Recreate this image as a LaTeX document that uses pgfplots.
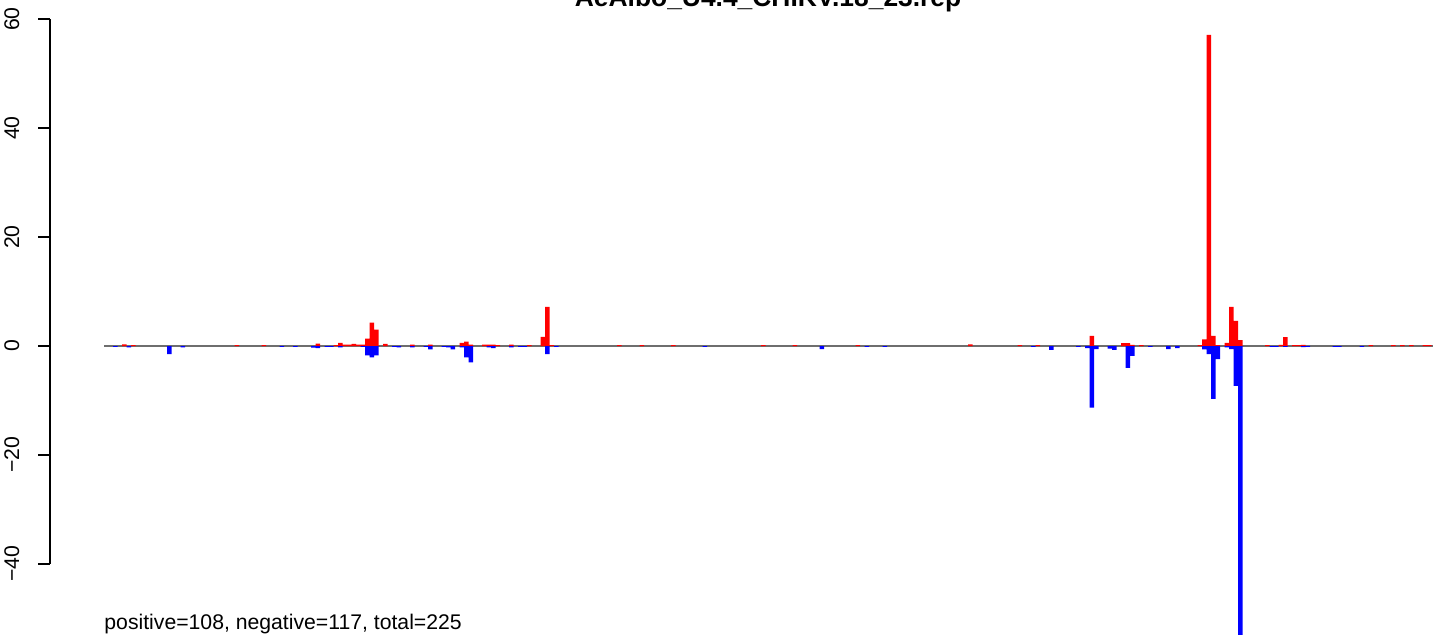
\documentclass[border=0pt]{standalone}
\usepackage{pgfplots}
\usepackage{pgfplotstable}
\pgfplotsset{compat=1.18}
\usepackage{fontspec}
\setmainfont{Liberation Sans}

% bin  value  (bins of equal width along the genome)
\pgfplotstableread{
bin val
4 0.3
6 0.15
29 0.15
35 0.15
47 0.45
51 0.15
52 0.6
53 0.25
54 0.25
55 0.4
56 0.25
57 0.25
58 1.35
59 4.3
60 3.0
62 0.4
68 0.25
72 0.25
79 0.6
80 0.8
81 0.25
84 0.25
85 0.25
86 0.25
87 0.15
90 0.25
94 0.15
97 1.7
98 7.2
99 0.15
114 0.15
119 0.15
126 0.15
146 0.15
153 0.15
167 0.15
192 0.3
203 0.15
207 0.15
219 1.85
226 0.55
227 0.55
228 0.2
230 0.15
243 0.15
244 1.2
245 57.1
246 1.85
247 0.15
249 0.6
250 7.2
251 4.6
252 1.1
258 0.15
261 0.2
262 1.65
264 0.15
265 0.15
266 0.2
281 0.15
286 0.15
288 0.15
290 0.15
293 0.15
294 0.15
}\pos

\pgfplotstableread{
bin val
2 -0.15
5 -0.25
14 -1.5
17 -0.25
39 -0.15
42 -0.15
46 -0.3
47 -0.4
49 -0.15
50 -0.15
52 -0.25
57 -0.15
58 -1.7
59 -2.1
60 -1.7
64 -0.15
65 -0.25
68 -0.25
71 -0.15
72 -0.6
75 -0.15
76 -0.25
77 -0.6
79 -0.25
80 -2.1
81 -3.0
85 -0.25
86 -0.4
90 -0.25
92 -0.15
93 -0.15
98 -1.5
100 -0.15
133 -0.15
159 -0.55
169 -0.15
173 -0.15
206 -0.15
210 -0.7
216 -0.15
218 -0.4
219 -11.3
220 -0.55
223 -0.5
224 -0.7
227 -4.0
228 -1.8
232 -0.15
236 -0.55
238 -0.4
244 -0.6
245 -1.5
246 -9.7
247 -2.4
249 -0.25
250 -0.55
251 -7.3
252 -55
259 -0.15
260 -0.15
262 -0.15
266 -0.2
267 -0.15
273 -0.15
274 -0.15
279 -0.15
}\negs

\definecolor{zeroline}{RGB}{110,110,110}

\begin{document}
\begin{tikzpicture}
\begin{axis}[
  at={(0,0)}, anchor=south west,
  scale only axis,
  width=716.5pt, height=317pt,
  xmin=-23.61, xmax=294.83,
  ymin=-52.84, ymax=63.49,
  hide axis,
]
\addplot[zeroline, line width=0.7pt] coordinates {(-0.5,0) (294.83,0)};
\addplot[ybar, bar width=1, bar shift=0pt, fill=red, draw=none] table[x=bin, y=val] {\pos};
\addplot[ybar, bar width=1, bar shift=0pt, fill=blue, draw=none] table[x=bin, y=val] {\negs};
\node[anchor=base west, inner sep=0pt, font=\fontsize{10.6}{12}\selectfont]
  at (axis description cs:0.0726,0.0071) {positive=108, negative=117, total=225};
\node[anchor=base, inner sep=0pt, font=\fontsize{13.2}{15}\selectfont\bfseries]
  at (axis description cs:0.536,0.989) {AeAlbo\_U4.4\_CHIKV.18\_23.rep};
\end{axis}

\begin{axis}[
  at={(25pt,35pt)}, anchor=south west,
  scale only axis,
  width=1pt, height=272.5pt,
  xmin=0, xmax=1, ymin=-40, ymax=60,
  hide x axis,
  axis y line*=left,
  y axis line style={line width=0.6pt},
  ytick={-40,-20,0,20,40,60},
  yticklabels={−40,−20,0,20,40,60},
  tick align=outside,
  major tick length=6pt,
  every tick/.style={black, line width=0.6pt},
  yticklabel shift=9.5pt,
  yticklabel style={rotate=90, anchor=base, inner sep=0pt,
    font=\fontsize{10.6}{12}\selectfont},
]
\end{axis}
\pgfresetboundingbox
\path[use as bounding box] (0,0) rectangle (716.5pt,317pt);
\end{tikzpicture}
\end{document}
